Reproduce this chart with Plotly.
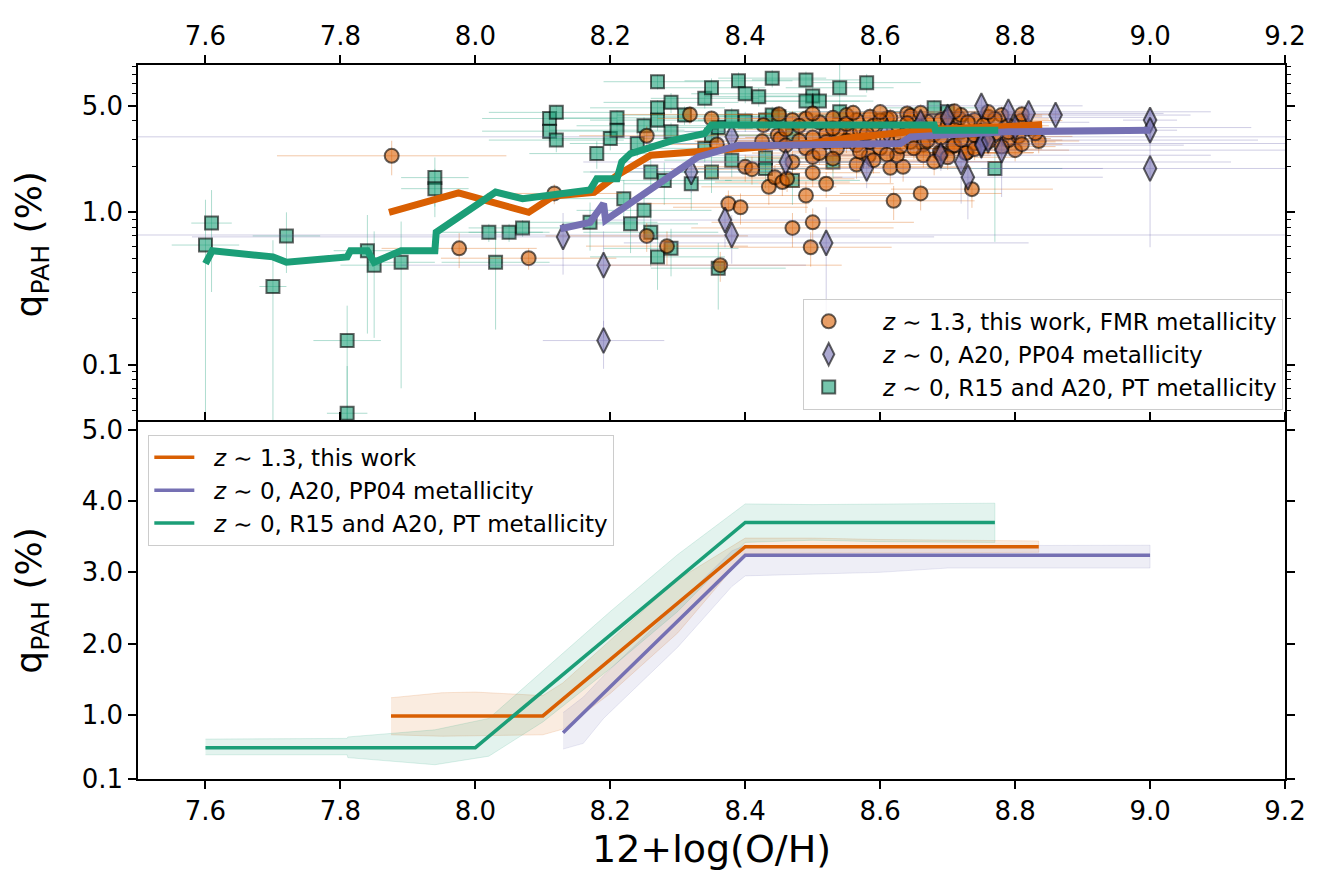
import plotly.graph_objects as go

# ---------------- data: top panel scatter ----------------
# z~1.3, this work, FMR metallicity
fmr_x = [7.876, 7.976, 8.079, 8.117, 8.254, 8.254, 8.284, 8.318, 8.350, 8.358,
         8.363, 8.375, 8.393, 8.400, 8.410, 8.425, 8.427, 8.435, 8.444, 8.448,
         8.452, 8.470, 8.455, 8.462, 8.500, 8.520, 8.490, 8.500, 8.470, 8.497,
         8.520, 8.530, 8.556, 8.565, 8.565, 8.583, 8.615, 8.634, 8.625, 8.610,
         8.620, 8.660, 8.640, 8.664, 8.664, 8.688, 8.708, 8.728, 8.736, 8.739,
         8.717, 8.760, 8.780, 8.550, 8.490, 8.470, 8.520, 8.490, 8.500, 8.585,
         8.600, 8.645, 8.650, 8.536, 8.540, 8.565, 8.670, 8.690, 8.740, 8.753,
         8.615, 8.585, 8.630, 8.720, 8.753, 8.700, 8.654, 8.835, 8.800, 8.790,
         8.770, 8.805, 8.710, 8.727, 8.690, 8.720, 8.645, 8.460, 8.480, 8.510,
         8.530, 8.550, 8.570, 8.590, 8.600, 8.620, 8.640, 8.660, 8.680, 8.700,
         8.710, 8.730, 8.750, 8.770, 8.790, 8.810, 8.820, 8.830, 8.500, 8.550,
         8.580, 8.610, 8.630, 8.670, 8.690, 8.720, 8.740, 8.760, 8.780, 8.460,
         8.480, 8.510, 8.530, 8.570, 8.590, 8.610, 8.680, 8.700, 8.740, 8.790,
         8.810, 8.450, 8.560, 8.660, 8.760, 8.500, 8.600, 8.710, 8.810]
fmr_y = [2.35, 0.58, 0.50, 1.33, 3.18, 0.70, 0.60, 4.39, 4.13, 2.79,
         0.45, 1.14, 1.08, 1.99, 1.92, 2.93, 3.74, 1.47, 1.70, 3.21,
         3.05, 2.14, 1.58, 1.66, 1.82, 1.54, 1.29, 0.86, 0.79, 0.59,
         3.29, 4.17, 3.25, 2.06, 4.03, 2.35, 1.96, 1.99, 2.37, 4.13,
         1.19, 1.33, 4.46, 2.79, 2.37, 2.47, 2.73, 2.47, 1.42, 2.83,
         4.13, 4.24, 4.35, 4.35, 4.13, 4.03, 2.90, 2.63, 2.31, 2.90,
         2.63, 2.90, 2.63, 2.63, 3.38, 2.76, 3.93, 4.03, 4.03, 3.05,
         4.17, 4.24, 3.13, 3.38, 3.74, 3.74, 3.38, 2.94, 2.56, 2.98,
         3.29, 3.15, 2.76, 2.45, 2.43, 4.35, 4.30, 3.50, 3.70, 3.90,
         3.55, 3.80, 3.45, 3.70, 4.00, 3.55, 3.85, 3.60, 3.25, 4.20,
         3.50, 3.90, 3.40, 4.10, 3.70, 4.00, 3.55, 3.30, 3.10, 2.95,
         3.30, 3.00, 2.70, 2.95, 3.10, 3.00, 3.20, 2.90, 2.70, 2.75,
         2.95, 2.45, 2.25, 2.50, 2.20, 2.40, 2.15, 2.30, 2.60, 3.35,
         2.80, 4.40, 4.50, 4.50, 4.55, 4.45, 4.55, 4.60, 4.40]
fmr_xerr = [0.17, 0.115, 0.13, 0.10, 0.10, 0.15, 0.12, 0.10, 0.08, 0.10,
            0.18, 0.12, 0.10, 0.10, 0.12, 0.10, 0.08, 0.10, 0.10, 0.10,
            0.08, 0.12, 0.10, 0.10, 0.10, 0.10, 0.12, 0.15, 0.15, 0.12,
            0.10, 0.08, 0.10, 0.12, 0.08, 0.10, 0.12, 0.10, 0.10, 0.08,
            0.12, 0.12, 0.08, 0.10, 0.10, 0.10, 0.08, 0.10, 0.12, 0.08,
            0.08, 0.08, 0.06, 0.08, 0.08, 0.08, 0.10, 0.10, 0.10, 0.10,
            0.10, 0.10, 0.10, 0.10, 0.08, 0.10, 0.08, 0.08, 0.08, 0.10,
            0.08, 0.08, 0.10, 0.08, 0.08, 0.08, 0.08, 0.06, 0.08, 0.08,
            0.08, 0.08, 0.10, 0.10, 0.10, 0.08, 0.08, 0.08, 0.08, 0.08,
            0.08, 0.08, 0.08, 0.08, 0.08, 0.08, 0.08, 0.08, 0.08, 0.08,
            0.08, 0.08, 0.08, 0.08, 0.06, 0.06, 0.06, 0.06, 0.10, 0.10,
            0.10, 0.10, 0.10, 0.10, 0.10, 0.10, 0.10, 0.10, 0.08, 0.10,
            0.10, 0.10, 0.10, 0.10, 0.10, 0.10, 0.10, 0.10, 0.10, 0.08,
            0.06, 0.08, 0.08, 0.08, 0.06, 0.08, 0.08, 0.08, 0.06]
fmr_yerr = [0.60, 0.15, 0.08, 0.20, 0.50, 0.15, 0.15, 0.60, 0.50, 0.40,
            0.10, 0.25, 0.25, 0.40, 0.40, 0.50, 0.50, 0.35, 0.35, 0.50,
            0.40, 0.40, 0.30, 0.30, 0.35, 0.30, 0.30, 0.20, 0.20, 0.15,
            0.50, 0.60, 0.50, 0.40, 0.60, 0.40, 0.40, 0.40, 0.40, 0.60,
            0.30, 0.30, 0.60, 0.50, 0.40, 0.40, 0.50, 0.40, 0.35, 0.50,
            0.60, 0.60, 0.60, 0.60, 0.60, 0.60, 0.50, 0.40, 0.40, 0.50,
            0.40, 0.50, 0.40, 0.40, 0.50, 0.50, 0.50, 0.60, 0.60, 0.50,
            0.60, 0.60, 0.50, 0.50, 0.50, 0.50, 0.50, 0.50, 0.40, 0.50,
            0.50, 0.50, 0.50, 0.40, 0.40, 0.60, 0.60, 0.50, 0.50, 0.50,
            0.50, 0.50, 0.50, 0.50, 0.50, 0.50, 0.50, 0.50, 0.50, 0.60,
            0.50, 0.50, 0.50, 0.60, 0.50, 0.50, 0.50, 0.50, 0.50, 0.50,
            0.50, 0.50, 0.40, 0.50, 0.50, 0.50, 0.50, 0.50, 0.40, 0.40,
            0.50, 0.40, 0.40, 0.40, 0.40, 0.40, 0.40, 0.40, 0.40, 0.50,
            0.40, 0.60, 0.60, 0.60, 0.60, 0.60, 0.60, 0.60, 0.60]

# z~0, A20, PP04 metallicity
pp04_x = [8.13, 8.19, 8.19, 8.32, 8.37, 8.38, 8.38, 8.46, 8.52, 8.58,
          8.69, 8.72, 8.73, 8.75, 8.75, 8.75, 8.76, 8.78, 8.79, 8.82,
          8.86, 9.00, 9.00, 9.00, 8.61, 8.66, 8.70, 8.80]
pp04_y = [0.69, 0.45, 0.144, 1.84, 0.89, 0.71, 3.13, 2.14, 0.63, 1.94,
          2.37, 2.14, 1.70, 5.00, 2.83, 2.76, 2.98, 2.56, 4.57, 4.46,
          4.35, 4.03, 3.46, 1.94, 3.40, 3.90, 4.20, 3.60]
pp04_xerr = [0.55, 0.30, 0.09, 0.15, 0.20, 1.00, 1.00, 0.30, 0.30, 0.35,
             0.40, 0.40, 0.20, 0.15, 0.50, 0.30, 0.40, 0.45, 0.30, 0.20,
             0.20, 0.04, 0.04, 0.25, 0.30, 0.25, 0.30, 0.35]
pp04_yerr = [0.30, 0.30, 0.05, 0.50, 0.30, 0.25, 0.60, 0.50, 0.45, 0.50,
             0.50, 1.00, 0.80, 0.80, 0.60, 0.50, 0.50, 1.30, 0.60, 0.70,
             0.50, 0.80, 0.60, 1.35, 0.40, 0.50, 0.50, 0.50]

# z~0, R15 and A20, PT metallicity
pt_x = [7.600, 7.609, 7.700, 7.720, 7.810, 7.810, 7.840, 7.850, 7.890, 7.940,
        7.940, 8.020, 8.030, 8.050, 8.070, 8.110, 8.120, 8.110, 8.120, 8.180,
        8.170, 8.200, 8.210, 8.210, 8.220, 8.230, 8.240, 8.250, 8.250, 8.260,
        8.270, 8.270, 8.270, 8.260, 8.270, 8.290, 8.290, 8.280, 8.290, 8.310,
        8.320, 8.340, 8.350, 8.340, 8.350, 8.350, 8.360, 8.380, 8.390, 8.400,
        8.420, 8.400, 8.430, 8.430, 8.430, 8.440, 8.440, 8.490, 8.500, 8.490,
        8.510, 8.540, 8.580, 8.450, 8.540, 8.470, 8.470, 8.530, 8.680, 8.700,
        8.770, 8.380, 8.360]
pt_y = [0.61, 0.85, 0.326, 0.70, 0.144, 0.048, 0.56, 0.45, 0.47, 1.69,
        1.43, 0.74, 0.47, 0.74, 0.79, 4.13, 4.53, 3.41, 2.98, 2.43,
        0.86, 3.05, 4.17, 3.46, 1.23, 0.84, 2.83, 3.70, 1.03, 0.74,
        7.20, 4.85, 4.03, 1.84, 0.51, 5.27, 3.38, 1.62, 0.58, 4.35,
        1.54, 5.60, 6.57, 2.63, 1.84, 3.21, 0.43, 2.20, 7.30, 6.00,
        5.74, 3.97, 4.03, 2.28, 1.94, 7.60, 4.35, 7.40, 5.80, 5.37,
        5.37, 6.57, 7.10, 4.24, 4.57, 3.21, 1.62, 2.14, 4.85, 4.57,
        1.94, 4.24, 3.60]
pt_xerr = [0.05, 0.03, 0.02, 0.05, 0.05, 0.03, 0.05, 0.05, 0.05, 0.05,
           0.05, 0.08, 0.08, 0.06, 0.08, 0.10, 0.10, 0.10, 0.10, 0.10,
           0.10, 0.10, 0.10, 0.10, 0.10, 0.10, 0.10, 0.10, 0.10, 0.10,
           0.08, 0.10, 0.10, 0.10, 0.10, 0.10, 0.10, 0.10, 0.10, 0.10,
           0.10, 0.08, 0.08, 0.10, 0.10, 0.10, 0.10, 0.10, 0.08, 0.08,
           0.08, 0.10, 0.10, 0.10, 0.10, 0.08, 0.10, 0.08, 0.08, 0.08,
           0.08, 0.08, 0.08, 0.10, 0.10, 0.10, 0.10, 0.10, 0.08, 0.08,
           0.10, 0.10, 0.10]
pt_yerr = [0.60, 0.55, 0.33, 0.30, 0.10, 0.05, 0.40, 0.30, 0.40, 0.60,
           0.50, 0.10, 0.30, 0.10, 0.10, 0.50, 0.50, 0.50, 0.50, 0.50,
           0.30, 0.50, 0.50, 0.50, 0.40, 0.30, 0.50, 0.50, 0.30, 0.30,
           0.80, 0.60, 0.60, 0.50, 0.20, 0.80, 0.50, 0.50, 0.20, 0.60,
           0.50, 0.80, 1.00, 0.50, 0.50, 0.50, 0.20, 0.50, 1.00, 0.80,
           0.80, 0.60, 0.60, 0.50, 0.50, 1.00, 0.60, 1.00, 0.80, 0.80,
           0.80, 4.20, 1.00, 0.60, 0.60, 0.50, 0.50, 0.50, 0.60, 0.60,
           1.30, 0.60, 0.50]

# ---------------- data: top panel running medians ----------------
med_fmr_x = [7.872, 7.975, 8.079, 8.116, 8.176, 8.21, 8.26, 8.33, 8.40, 8.50, 8.56, 8.625, 8.68, 8.78, 8.84]
med_fmr_y = [1.00, 1.34, 1.00, 1.28, 1.35, 1.75, 2.37, 2.50, 2.62, 2.85, 3.10, 3.29, 3.51, 3.64, 3.77]
med_pp04_x = [8.126, 8.17, 8.19, 8.193, 8.33, 8.39, 8.45, 8.63, 8.645, 8.79, 9.00]
med_pp04_y = [0.78, 0.86, 1.14, 0.89, 2.31, 2.76, 2.76, 2.83, 3.13, 3.38, 3.46]
med_pt_x = [7.60, 7.61, 7.70, 7.72, 7.81, 7.815, 7.84, 7.85, 7.89, 7.94, 7.942, 8.03, 8.07, 8.116,
            8.17, 8.18, 8.21, 8.217, 8.23, 8.294, 8.34, 8.35, 8.45, 8.68, 8.682, 8.775]
med_pt_y = [0.46, 0.56, 0.51, 0.47, 0.51, 0.56, 0.56, 0.47, 0.56, 0.56, 0.74, 1.36, 1.23, 1.30,
            1.40, 1.66, 1.66, 2.14, 2.43, 2.98, 3.29, 3.74, 3.77, 3.74, 3.46, 3.46]

# ---------------- data: bottom panel fits and bands ----------------
fit_fmr_x = [7.875, 8.10, 8.40, 8.835]
fit_fmr_y = [0.985, 0.985, 3.36, 3.36]
fit_pp04_x = [8.13, 8.40, 9.00]
fit_pp04_y = [0.75, 3.24, 3.24]
fit_pt_x = [7.60, 8.00, 8.40, 8.77]
fit_pt_y = [0.54, 0.54, 3.70, 3.70]

band_fmr_x = [7.875, 7.95, 8.00, 8.05, 8.10, 8.13, 8.20, 8.30, 8.40, 8.50, 8.60, 8.70, 8.835]
band_fmr_hi = [1.24, 1.31, 1.32, 1.30, 1.27, 1.45, 2.05, 2.90, 3.48, 3.48, 3.46, 3.45, 3.44]
band_fmr_lo = [0.72, 0.70, 0.70, 0.71, 0.72, 0.80, 1.30, 2.15, 3.26, 3.27, 3.27, 3.28, 3.28]
band_pt_x = [7.60, 7.81, 7.811, 7.94, 8.02, 8.10, 8.20, 8.30, 8.40, 8.50, 8.60, 8.70, 8.77]
band_pt_hi = [0.66, 0.67, 0.69, 0.79, 0.95, 1.62, 2.45, 3.25, 3.96, 3.95, 3.96, 3.96, 3.97]
band_pt_lo = [0.44, 0.44, 0.40, 0.30, 0.42, 0.90, 1.65, 2.45, 3.42, 3.45, 3.43, 3.42, 3.42]
band_pp04_x = [8.13, 8.16, 8.19, 8.30, 8.38, 8.40, 8.50, 8.60, 8.70, 8.80, 9.00]
band_pp04_hi = [1.03, 1.25, 1.55, 2.55, 3.30, 3.38, 3.37, 3.37, 3.38, 3.38, 3.38]
band_pp04_lo = [0.52, 0.60, 0.95, 1.95, 2.80, 2.95, 2.98, 3.00, 3.06, 3.06, 3.06]

x_ticks = [7.6, 7.8, 8.0, 8.2, 8.4, 8.6, 8.8, 9.0, 9.2]
top_y_ticks = [0.1, 1.0, 5.0]
top_y_ticktext = ["0.1", "1.0", "5.0"]
bot_y_ticks = [0.1, 1.0, 2.0, 3.0, 4.0, 5.0]
bot_y_ticktext = ["0.1", "1.0", "2.0", "3.0", "4.0", "5.0"]

# ---------------- styling ----------------
ORANGE = "#d95f02"
PURPLE = "#7570b3"
GREEN = "#1b9e77"
FONT = "DejaVu Sans"
PAD_TOP = "\u00a0\u00a0\u00a0\u00a0"
PAD_BOT = "\u00a0\u00a0"

def rgba(hexc, a):
    h = hexc.lstrip("#")
    return "rgba(%d,%d,%d,%.3f)" % (int(h[0:2], 16), int(h[2:4], 16), int(h[4:6], 16), a)

def minus_err(y, e):
    return [min(ei, 0.995 * yi) for yi, ei in zip(y, e)]

fig = go.Figure()

def add_scatter(x, y, xe, ye, color, symbol, size, name, rank):
    fig.add_trace(go.Scatter(
        x=x, y=y, mode="markers", name=PAD_TOP + name, xaxis="x", yaxis="y",
        legend="legend", legendrank=rank,
        marker=dict(symbol=symbol, size=size, color=rgba(color, 0.6),
                    line=dict(color="rgba(0,0,0,0.6)", width=2)),
        error_x=dict(type="data", array=xe, symmetric=True, color=rgba(color, 0.35),
                     thickness=1, width=0),
        error_y=dict(type="data", array=ye, arrayminus=minus_err(y, ye), symmetric=False,
                     color=rgba(color, 0.35), thickness=1, width=0),
    ))

add_scatter(pt_x, pt_y, pt_xerr, pt_yerr, GREEN, "square", 13,
            "<i>z</i> ∼ 0, R15 and A20, PT metallicity", 3)
add_scatter(fmr_x, fmr_y, fmr_xerr, fmr_yerr, ORANGE, "circle", 14,
            "<i>z</i> ∼ 1.3, this work, FMR metallicity", 1)
add_scatter(pp04_x, pp04_y, pp04_xerr, pp04_yerr, PURPLE, "diamond-tall", 18,
            "<i>z</i> ∼ 0, A20, PP04 metallicity", 2)

for mx, my, c in [(med_fmr_x, med_fmr_y, ORANGE), (med_pp04_x, med_pp04_y, PURPLE),
                  (med_pt_x, med_pt_y, GREEN)]:
    fig.add_trace(go.Scatter(x=mx, y=my, mode="lines", xaxis="x", yaxis="y",
                             line=dict(color=c, width=7), showlegend=False,
                             hoverinfo="skip"))

# bottom panel bands
for bx, hi, lo, c in [(band_fmr_x, band_fmr_hi, band_fmr_lo, ORANGE),
                      (band_pp04_x, band_pp04_hi, band_pp04_lo, PURPLE),
                      (band_pt_x, band_pt_hi, band_pt_lo, GREEN)]:
    fig.add_trace(go.Scatter(x=bx + bx[::-1], y=hi + lo[::-1], mode="lines",
                             xaxis="x2", yaxis="y2", fill="toself",
                             fillcolor=rgba(c, 0.12), line=dict(color=rgba(c, 0.15), width=1),
                             showlegend=False, hoverinfo="skip"))

for fx, fy, c, nm in [(fit_fmr_x, fit_fmr_y, ORANGE, "<i>z</i> ∼ 1.3, this work"),
                      (fit_pp04_x, fit_pp04_y, PURPLE, "<i>z</i> ∼ 0, A20, PP04 metallicity"),
                      (fit_pt_x, fit_pt_y, GREEN, "<i>z</i> ∼ 0, R15 and A20, PT metallicity")]:
    fig.add_trace(go.Scatter(x=fx, y=fy, mode="lines", xaxis="x2", yaxis="y2",
                             line=dict(color=c, width=3.5), name=PAD_BOT + nm, legend="legend2"))

axis_common = dict(showline=True, linecolor="black", linewidth=1.6, mirror="allticks",
                   ticks="outside", ticklen=8, tickwidth=1.5, tickcolor="black",
                   showgrid=False, zeroline=False,
                   tickfont=dict(family=FONT, size=26, color="black"))

minor_vals = [0.05, 0.06, 0.07, 0.08, 0.09, 0.2, 0.3, 0.4, 0.5, 0.6, 0.7, 0.8, 0.9,
              2, 3, 4, 6, 7, 8, 9]

SPLIT = 0.499
EPS = 0.0011

fig.update_layout(
    width=1314, height=878,
    margin=dict(l=130, r=37, t=57, b=107),
    paper_bgcolor="white", plot_bgcolor="white",
    font=dict(family=FONT, color="black"),
    xaxis=dict(axis_common, domain=[0, 1], anchor="y", side="top", range=[7.5, 9.2],
               tickvals=x_ticks, ticktext=["%.1f" % v for v in x_ticks]),
    xaxis2=dict(axis_common, domain=[0, 1], anchor="y2", side="bottom", range=[7.5, 9.2],
                tickvals=x_ticks, ticktext=["%.1f" % v for v in x_ticks],
                title=dict(text="12+log(O/H)", font=dict(family=FONT, size=38), standoff=10)),
    yaxis=dict(axis_common, domain=[SPLIT - EPS, 1], anchor="x", type="log",
               range=[-1.386, 0.967], tickvals=top_y_ticks, ticktext=top_y_ticktext,
               minor=dict(tickvals=minor_vals, ticks="outside", ticklen=4, tickwidth=1.2,
                          tickcolor="black", showgrid=False),
               title=dict(text="q<sub>PAH</sub> (%)", font=dict(family=FONT, size=36), standoff=36)),
    yaxis2=dict(axis_common, domain=[0, SPLIT + EPS], anchor="x2", range=[0.1, 5.11],
                tickvals=bot_y_ticks, ticktext=bot_y_ticktext,
                title=dict(text="q<sub>PAH</sub> (%)", font=dict(family=FONT, size=36), standoff=36)),
    legend=dict(x=0.998, xanchor="right", y=0.517, yanchor="bottom",
                bordercolor="#cccccc", borderwidth=1, bgcolor="rgba(255,255,255,0.8)",
                font=dict(family=FONT, size=23), tracegroupgap=0, traceorder="normal",
                itemwidth=40),
    legend2=dict(x=0.009, xanchor="left", y=0.482, yanchor="top",
                 bordercolor="#cccccc", borderwidth=1, bgcolor="rgba(255,255,255,0.8)",
                 font=dict(family=FONT, size=23), tracegroupgap=0, traceorder="normal",
                 itemwidth=40),
)

fig.write_html("out.html")
